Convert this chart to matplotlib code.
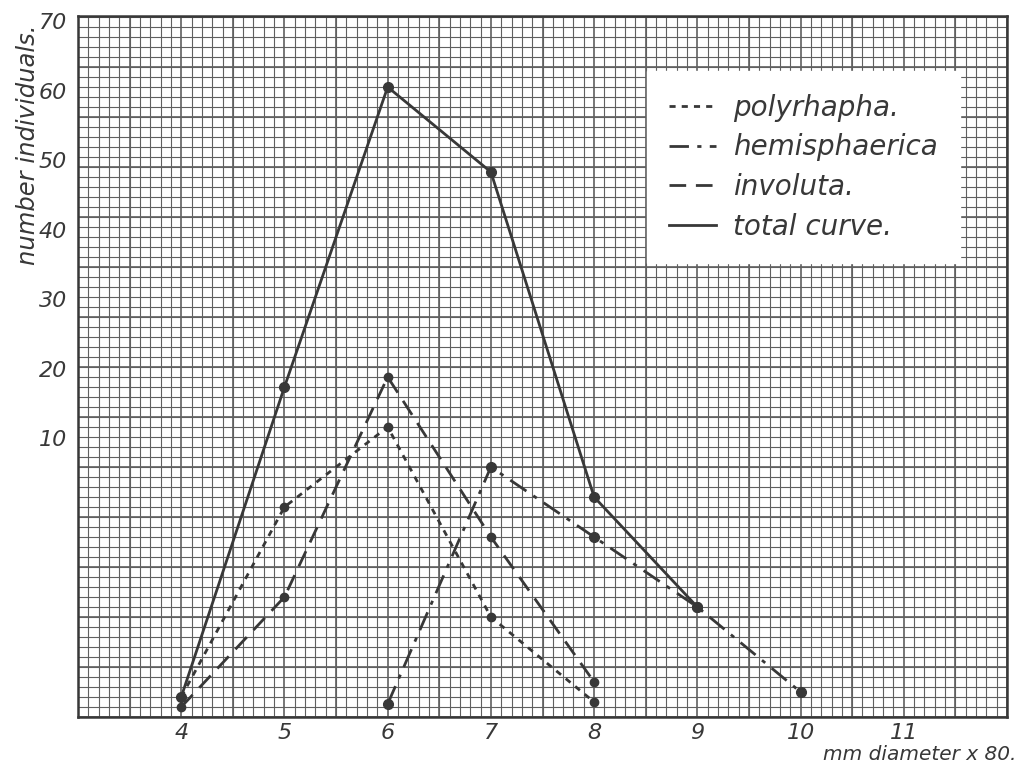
"""Size distribution of the three forms, with the total curve (redrawn from a hand-drawn plate)."""
import matplotlib
matplotlib.use("Agg")
import matplotlib.pyplot as plt
from matplotlib.ticker import MultipleLocator

# mm diameter x 80 vs number of individuals
polyrhapha_x = [4, 5, 6, 7, 8]
polyrhapha_y = [2, 21, 29, 10, 1.5]
involuta_x = [4, 5, 6, 7, 8]
involuta_y = [1, 12, 34, 18, 3.5]
hemisphaerica_x = [6, 7, 8, 9, 10]
hemisphaerica_y = [1.3, 25, 18, 11, 2.5]
total_x = [4, 5, 6, 7, 8, 9]
total_y = [2, 33, 63, 54.5, 22, 11]

x_ticks = [4, 5, 6, 7, 8, 9, 10, 11]
y_tick_labels = ["10", "20", "30", "40", "50", "60", "70"]

INK = "#383838"
GRID = "#606060"

fig = plt.figure(figsize=(10.21, 7.63), dpi=100)
ax = fig.add_axes([0.0764, 0.0603, 0.9099, 0.9187])
ax.set_xlim(3, 12)
ax.set_ylim(0, 70.1)

# graph paper
ax.xaxis.set_minor_locator(MultipleLocator(0.1))
ax.yaxis.set_minor_locator(MultipleLocator(1))
ax.grid(True, which="minor", color=GRID, lw=0.8, zorder=0)
ax.set_axisbelow(True)
for xv in [3 + 0.5 * i for i in range(19)]:
    ax.axvline(xv, color=GRID, lw=1.2, zorder=0)
for yv in range(0, 71, 5):
    ax.axhline(yv, color=GRID, lw=1.2, zorder=0)
for s in ax.spines.values():
    s.set_color(INK)
    s.set_linewidth(1.8)

lw = 2.0
ax.plot(polyrhapha_x, polyrhapha_y, color=INK, lw=lw, ls=(0, (2.2, 2.2)),
        marker="o", ms=6, label="polyrhapha.", zorder=3)
ax.plot(hemisphaerica_x, hemisphaerica_y, color=INK, lw=lw, ls=(0, (7, 3, 1.5, 3)),
        marker="o", ms=7, label="hemisphaerica", zorder=3)
ax.plot(involuta_x, involuta_y, color=INK, lw=lw, ls=(0, (6, 3.5)),
        marker="o", ms=6, label="involuta.", zorder=3)
ax.plot(total_x, total_y, color=INK, lw=lw, ls="-",
        marker="o", ms=7, label="total curve.", zorder=3)

# the plate's y labels are spaced 7 grid squares apart
y_tick_pos = [27.9 + 6.95 * i for i in range(len(y_tick_labels))]
ax.set_yticks(y_tick_pos)
ax.set_yticklabels(y_tick_labels)
ax.set_xticks(x_ticks)
ax.set_xticklabels([str(v) for v in x_ticks])
ax.tick_params(which="both", length=0, labelsize=16, labelcolor=INK)
ax.tick_params(axis="x", pad=4)
ax.tick_params(axis="y", pad=8)
for t in ax.get_xticklabels() + ax.get_yticklabels():
    t.set_fontstyle("italic")

fig.text(0.027, 0.81, "number individuals.", rotation=90, ha="center", va="center",
         fontsize=17.5, style="italic", color=INK)
fig.text(0.995, 0.011, "mm diameter x 80.", ha="right", va="center",
         fontsize=14.5, style="italic", color=INK)

leg = ax.legend(loc="upper left", bbox_to_anchor=(0.612, 0.921), fontsize=20,
                handlelength=1.7, handletextpad=0.6, labelspacing=0.42,
                borderpad=0.8, borderaxespad=0, frameon=True, fancybox=False,
                framealpha=1, facecolor="white", edgecolor="white", markerscale=0)
for t in leg.get_texts():
    t.set_fontstyle("italic")
    t.set_color(INK)
leg.set_zorder(5)

fig.savefig("out.png", dpi=100)
